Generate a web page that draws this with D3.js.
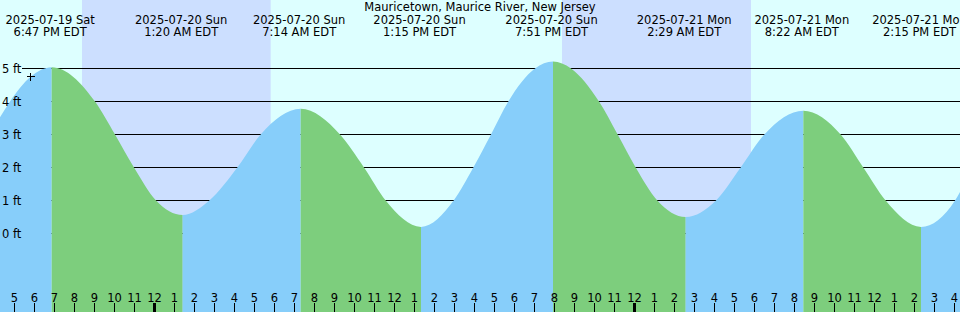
<!DOCTYPE html>
<html>
<head>
<meta charset="utf-8">
<script src="https://cdn.jsdelivr.net/npm/d3@7"></script>
<style>
  html, body { margin: 0; padding: 0; background: #fff; }
  svg { display: block; font-family: "DejaVu Sans", sans-serif; }
</style>
</head>
<body>
<svg id="chart" width="960" height="312"></svg>
<script>
// ---------- data ----------
const title = "Mauricetown, Maurice River, New Jersey";

const extremeTimes   = ["2025-07-19 18:47", "2025-07-20 01:20", "2025-07-20 07:14", "2025-07-20 13:15",
                        "2025-07-20 19:51", "2025-07-21 02:29", "2025-07-21 08:22", "2025-07-21 14:15"];
const extremeHeights = [5.04, 0.56, 3.78, 0.20, 5.21, 0.50, 3.72, 0.20];
const extremeTypes   = ["H", "L", "H", "L", "H", "L", "H", "L"];

// tide curve samples (time, feet)
const curveTimes = [
  "2025-07-19 16:12", "2025-07-19 16:42", "2025-07-19 17:44", "2025-07-19 18:47", "2025-07-19 20:57",
  "2025-07-19 21:57", "2025-07-19 22:54", "2025-07-20 00:00", "2025-07-20 01:20", "2025-07-20 02:40",
  "2025-07-20 04:04", "2025-07-20 05:14", "2025-07-20 07:14", "2025-07-20 09:12", "2025-07-20 10:24",
  "2025-07-20 11:29", "2025-07-20 13:15", "2025-07-20 14:53", "2025-07-20 15:52", "2025-07-20 16:45",
  "2025-07-20 17:37", "2025-07-20 18:57", "2025-07-20 19:51", "2025-07-20 20:45", "2025-07-20 22:09",
  "2025-07-20 23:05", "2025-07-20 23:59", "2025-07-21 01:04", "2025-07-21 02:29", "2025-07-21 04:00",
  "2025-07-21 05:14", "2025-07-21 06:25", "2025-07-21 08:22", "2025-07-21 10:14", "2025-07-21 11:22",
  "2025-07-21 12:29", "2025-07-21 14:15", "2025-07-21 15:57", "2025-07-21 16:12"
];
const curveHeights = [
  3.52, 4.00, 4.75, 5.04, 4.00,
  3.00, 2.00, 1.00, 0.56, 1.00,
  2.00, 3.00, 3.78, 3.00, 2.00,
  1.00, 0.20, 1.00, 2.00, 3.00,
  4.00, 5.00, 5.21, 5.00, 4.00,
  3.00, 2.00, 1.00, 0.50, 1.00,
  2.00, 3.00, 3.72, 3.00, 2.00,
  1.00, 0.20, 1.00, 1.26
];

const nightStarts = ["2025-07-19 20:18", "2025-07-20 20:18"];
const nightEnds   = ["2025-07-20 05:44", "2025-07-21 05:45"];

const domainStart = "2025-07-19 16:12";
const domainEnd   = "2025-07-21 16:12";
const markerTime = "2025-07-19 17:44";
const markerHeight = 4.75;

const yTicks = [0, 1, 2, 3, 4, 5];
const yUnit = "ft";

// ---------- setup ----------
const W = 960, H = 312;
const parse = d3.timeParse("%Y-%m-%d %H:%M");
const fmtDate = d3.timeFormat("%Y-%m-%d %a");
const fmtTime = d3.timeFormat("%-I:%M %p EDT");
const fmtHour = d3.timeFormat("%-I");

const colors = { day: "#ddffff", night: "#ccdfff", rise: "#87cefa", fall: "#7dce7d" };

const x = d3.scaleTime().domain([parse(domainStart), parse(domainEnd)]).range([0, W]);
const y = d3.scaleLinear().domain([0, 5]).range([233.5, 68.5]);

const svg = d3.select("#chart");
const curve = curveTimes.map((t, i) => ({ t: parse(t), h: curveHeights[i] }));
const extremes = extremeTimes.map((t, i) => ({ t: parse(t), h: extremeHeights[i], type: extremeTypes[i] }));

// background
svg.append("rect").attr("x", 0).attr("y", 0).attr("width", W).attr("height", H).attr("fill", colors.day);
svg.selectAll("rect.night").data(nightStarts.map((s, i) => [parse(s), parse(nightEnds[i])]))
  .join("rect").attr("class", "night")
  .attr("x", d => x(d[0])).attr("y", 0)
  .attr("width", d => x(d[1]) - x(d[0])).attr("height", H)
  .attr("fill", colors.night);

// grid lines
svg.append("g").selectAll("line").data(yTicks).join("line")
  .attr("x1", 22).attr("x2", W)
  .attr("y1", d => y(d)).attr("y2", d => y(d))
  .attr("stroke", "#000").attr("stroke-width", 1)
  .attr("shape-rendering", "crispEdges");

// tide fill, split into rising / falling segments
const area = d3.area().x(d => x(d.t)).y0(H).y1(d => y(d.h)).curve(d3.curveMonotoneX);
const bounds = [x.domain()[0], ...extremes.map(e => e.t), x.domain()[1]];
const segs = [];
for (let i = 0; i < bounds.length - 1; i++) {
  let rising;
  if (i < extremes.length) rising = extremes[i].type === "H";
  else rising = extremes[extremes.length - 1].type === "L";
  segs.push({ a: bounds[i], b: bounds[i + 1], rising });
}
const defs = svg.append("defs");
segs.forEach((s, i) => {
  defs.append("clipPath").attr("id", "seg" + i)
    .append("rect").attr("x", x(s.a)).attr("y", 0)
    .attr("width", x(s.b) - x(s.a)).attr("height", H);
  svg.append("path").datum(curve)
    .attr("d", area)
    .attr("fill", s.rising ? colors.rise : colors.fall)
    .attr("clip-path", "url(#seg" + i + ")");
});

// y labels
svg.append("g").selectAll("text").data(yTicks).join("text")
  .attr("x", 2).attr("y", d => y(d) + 4.3)
  .attr("font-size", "11.5px").attr("fill", "#000")
  .text(d => d + " " + yUnit);

// title
svg.append("text").attr("x", W / 2).attr("y", 11)
  .attr("text-anchor", "middle").attr("font-size", "11.5px").attr("fill", "#000")
  .text(title);

// extreme labels
const lab = svg.append("g").selectAll("g").data(extremes).join("g")
  .attr("transform", d => `translate(${x(d.t) - 1.5},0)`);
lab.append("text").attr("y", 24).attr("text-anchor", "middle")
  .attr("font-size", "11.5px").attr("fill", "#000").text(d => fmtDate(d.t));
lab.append("text").attr("y", 35.5).attr("text-anchor", "middle")
  .attr("font-size", "11.5px").attr("fill", "#000").text(d => fmtTime(d.t));

// hour axis
const hours = d3.timeHour.range(x.domain()[0], x.domain()[1]).filter(d => x(d) >= 0 && x(d) <= W);
const axis = d3.axisTop(x).tickValues(hours).tickSize(9).tickPadding(1.5).tickFormat(fmtHour);
const ax = svg.append("g").attr("transform", `translate(-2,${H})`).call(axis);
ax.select(".domain").remove();
ax.selectAll("text").attr("font-size", "11.5px").attr("font-family", "DejaVu Sans, sans-serif").attr("fill", "#000");
ax.selectAll(".tick line").attr("stroke", "#000")
  .attr("stroke-width", d => d.getHours() === 0 ? 3 : 1);

// current-time marker
const mx = x(parse(markerTime)), my = y(markerHeight);
const mk = svg.append("g").attr("stroke", "#000").attr("stroke-width", 1).attr("shape-rendering", "crispEdges");
mk.append("line").attr("x1", mx - 4).attr("x2", mx + 4).attr("y1", Math.floor(my) + 0.5).attr("y2", Math.floor(my) + 0.5);
mk.append("line").attr("x1", Math.floor(mx) + 0.5).attr("x2", Math.floor(mx) + 0.5).attr("y1", my - 4).attr("y2", my + 4);
</script>
</body>
</html>
